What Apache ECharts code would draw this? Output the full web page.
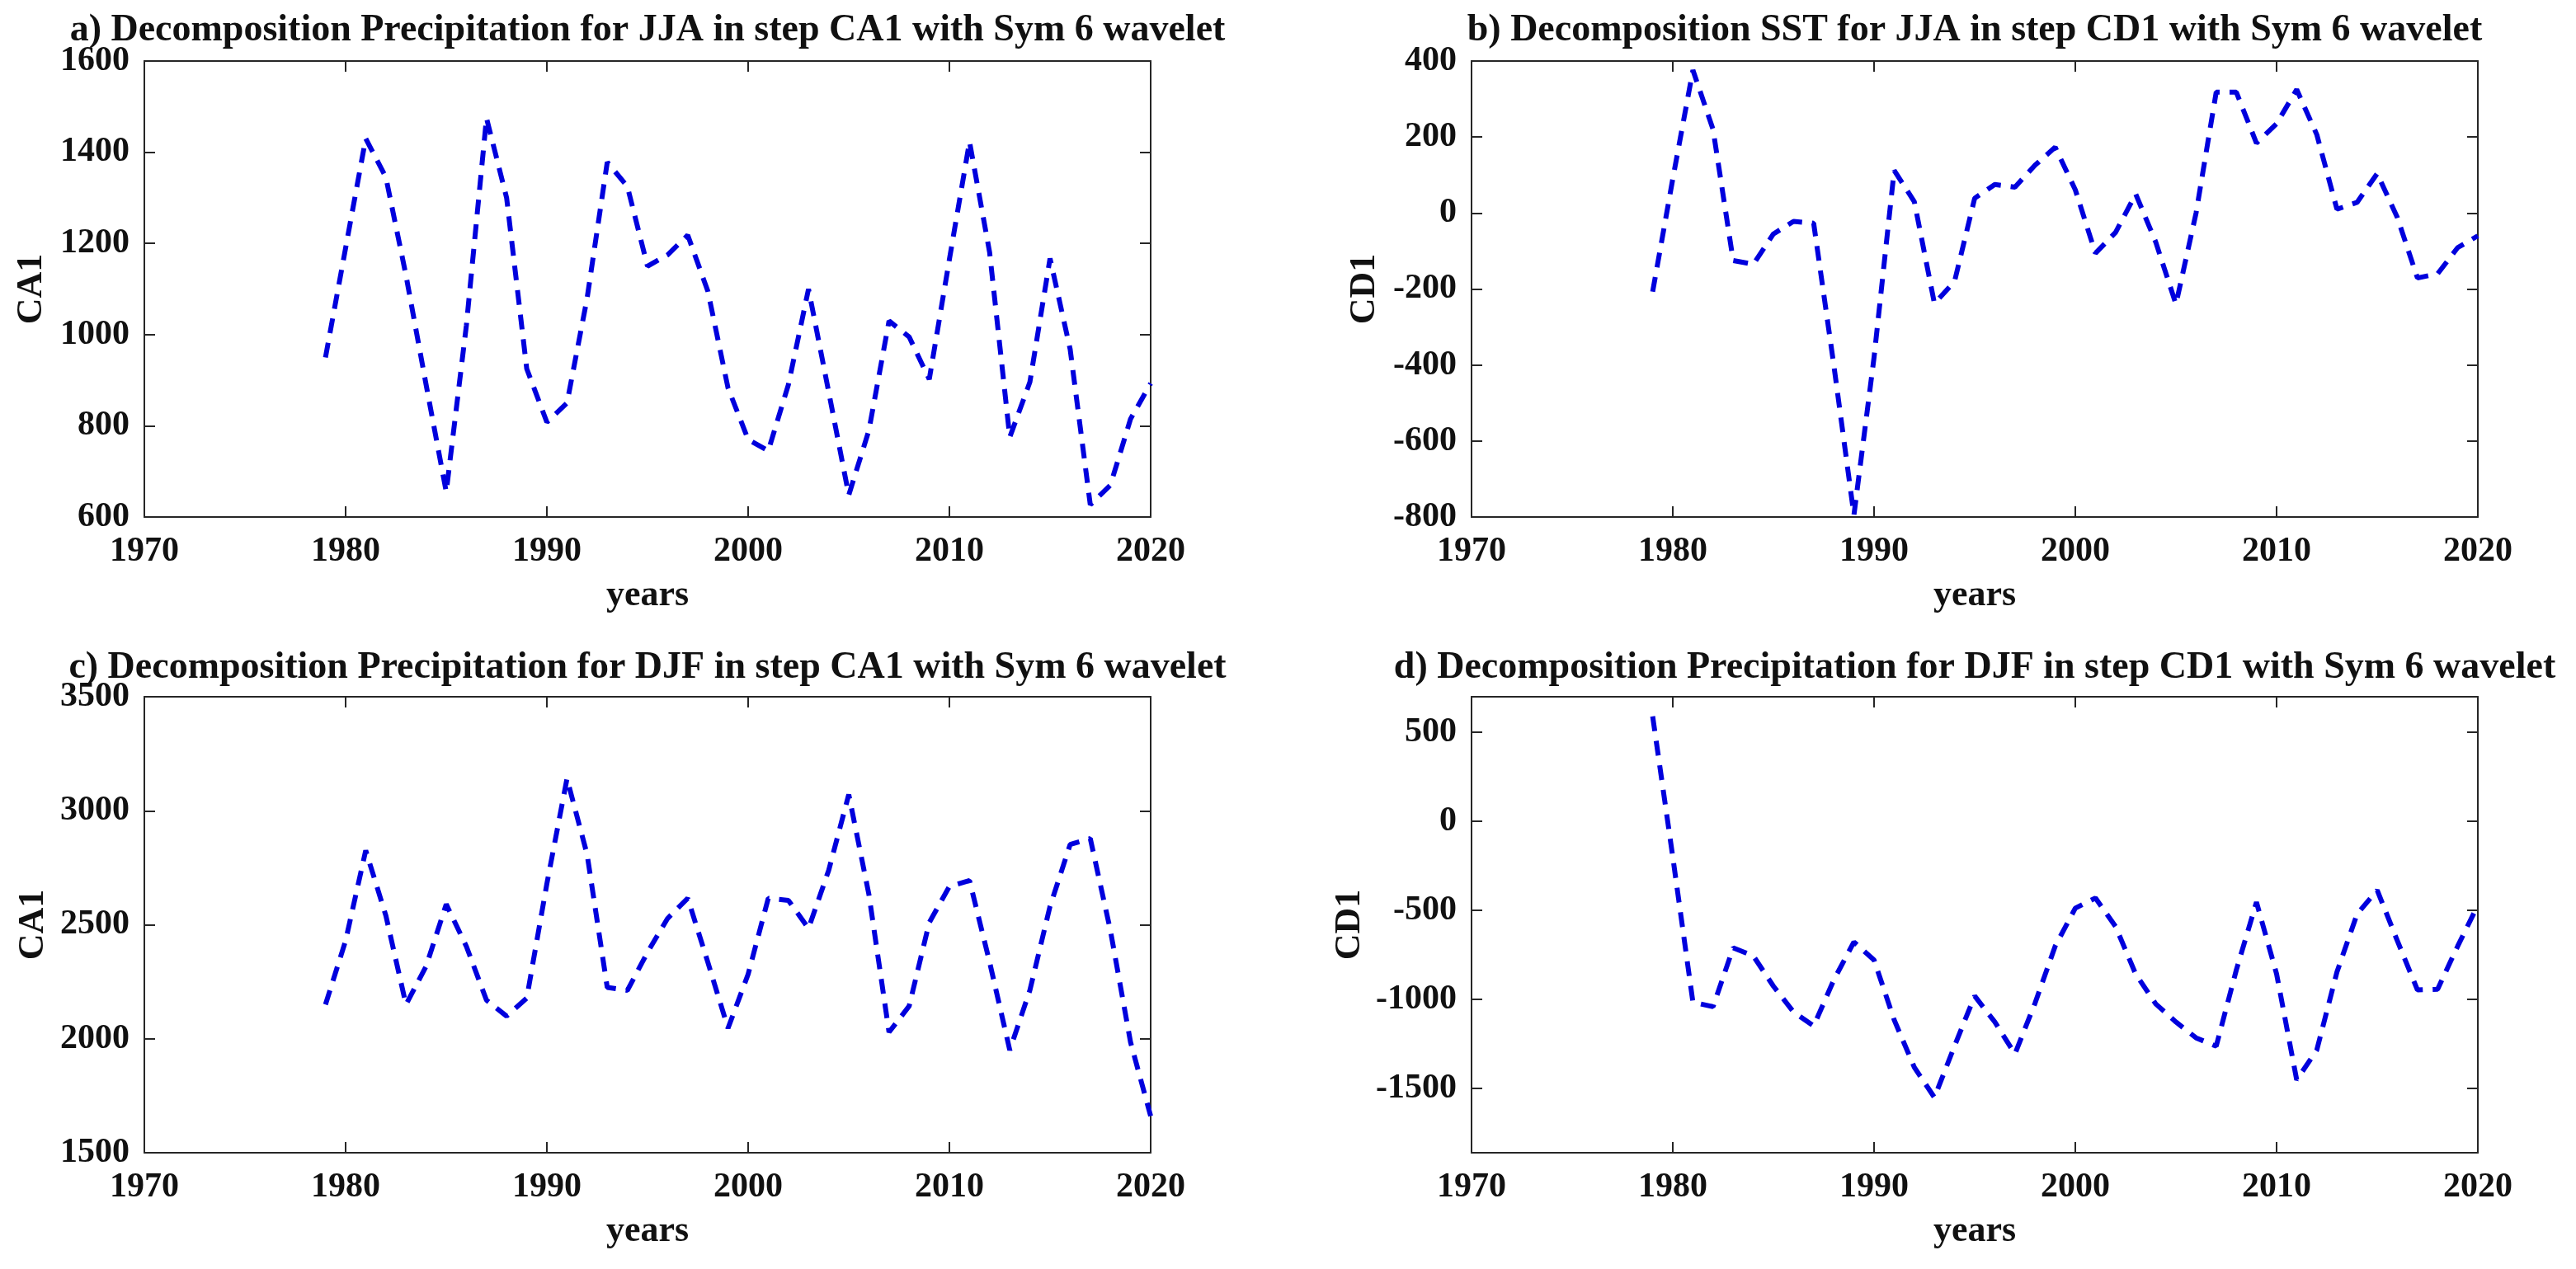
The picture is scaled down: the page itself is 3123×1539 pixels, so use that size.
<!DOCTYPE html>
<html><head><meta charset="utf-8">
<script src="https://cdn.jsdelivr.net/npm/echarts@6/dist/echarts.min.js"></script>
<style>html,body{margin:0;padding:0;background:#fff;}#c{width:3123px;height:1539px;}</style>
</head><body><div id="c"></div>
<script>
const years = [1979,1980,1981,1982,1983,1984,1985,1986,1987,1988,1989,1990,1991,1992,1993,1994,1995,1996,1997,1998,1999,2000,2001,2002,2003,2004,2005,2006,2007,2008,2009,2010,2011,2012,2013,2014,2015,2016,2017,2018,2019,2020];
const jjaPrecipCA1 = [950,1190,1430,1345,1130,890,655,1020,1475,1300,925,808,850,1080,1378,1325,1150,1175,1218,1095,883,770,745,890,1100,875,648,790,1030,995,902,1165,1423,1180,775,896,1167,968,627,670,815,893];
const jjaSstCD1 = [-207,90,376,220,-125,-135,-55,-22,-27,-400,-795,-380,112,30,-238,-180,39,75,68,126,173,61,-106,-51,50,-77,-240,0,318,318,184,235,325,206,10,28,104,-12,-171,-160,-91,-60];
const djfPrecipCA1 = [2150,2430,2826,2540,2150,2318,2590,2405,2169,2099,2178,2680,3141,2808,2225,2212,2379,2528,2616,2335,2046,2283,2616,2607,2484,2738,3071,2633,2029,2143,2510,2668,2694,2335,1950,2213,2581,2852,2878,2475,1985,1661];
const djfPrecipCD1 = [590,-200,-1015,-1040,-710,-755,-925,-1070,-1148,-890,-677,-778,-1114,-1380,-1550,-1260,-980,-1126,-1305,-1020,-700,-487,-430,-590,-857,-1025,-1126,-1215,-1262,-834,-453,-856,-1451,-1283,-845,-520,-386,-670,-946,-942,-700,-470];

const titles = [
  'a) Decomposition Precipitation for JJA in step CA1 with Sym 6 wavelet',
  'b) Decomposition SST for JJA in step CD1 with Sym 6 wavelet',
  'c) Decomposition Precipitation for DJF in step CA1 with Sym 6 wavelet',
  'd) Decomposition Precipitation for DJF in step CD1 with Sym 6 wavelet'
];
const yNames = ['CA1','CD1','CA1','CD1'];
const xName = 'years';
const xMin = 1970, xMax = 2020, xStep = 10;
const yMins = [600, -800, 1500, -1860];
const yMaxs = [1600, 400, 3500, 700];
const ySteps = [200, 200, 500, null];
const seriesData = [jjaPrecipCA1, jjaSstCD1, djfPrecipCA1, djfPrecipCD1];

const FONT = '"Liberation Serif", "Times New Roman", serif';
const AX = '#262626';
const grids = [
  {left:175, top:74, width:1220, height:553},
  {left:1784, top:74, width:1220, height:553},
  {left:175, top:845, width:1220, height:553},
  {left:1784, top:845, width:1220, height:553}
];
const titleTops = [14, 14, 787, 787];
const yNameGaps = [114, 107, 112, 125];

const option = {
  animation:false,
  backgroundColor:'#ffffff',
  title: [], grid: [], xAxis: [], yAxis: [], series: []
};
const lineCommon = {show:true, onZero:false, lineStyle:{color:AX, width:2}};
const tickCommon = {show:true, inside:true, length:13, lineStyle:{color:AX, width:2}};
const plain = v => String(v);
grids.forEach((g, i) => {
  option.grid.push(Object.assign({containLabel:false}, g));
  option.title.push({
    text: titles[i], left: g.left + g.width/2, top: titleTops[i], textAlign:'center', padding:0,
    textStyle:{fontFamily:FONT, fontWeight:'bold', fontSize:46, color:'#111'}
  });
  option.xAxis.push({
    type:'value', gridIndex:i, position:'bottom', min:xMin, max:xMax, interval:xStep,
    name:xName, nameLocation:'middle', nameGap:74,
    nameTextStyle:{fontFamily:FONT, fontWeight:'bold', fontSize:44, color:'#111'},
    axisLine:lineCommon, axisTick:tickCommon, splitLine:{show:false},
    axisLabel:{fontFamily:FONT, fontWeight:'bold', fontSize:42, color:'#111', margin:21, formatter:plain}
  });
  option.xAxis.push({
    type:'value', gridIndex:i, position:'top', min:xMin, max:xMax, interval:xStep,
    axisLine:lineCommon, axisTick:tickCommon, splitLine:{show:false}, axisLabel:{show:false}
  });
  const yBase = {type:'value', gridIndex:i, min:yMins[i], max:yMaxs[i]};
  if (ySteps[i]) yBase.interval = ySteps[i];
  option.yAxis.push(Object.assign({}, yBase, {
    position:'left', name:yNames[i], nameLocation:'middle', nameGap:yNameGaps[i], nameRotate:90,
    nameTextStyle:{fontFamily:FONT, fontWeight:'bold', fontSize:44, color:'#111'},
    axisLine:lineCommon, axisTick:tickCommon, splitLine:{show:false},
    axisLabel:{fontFamily:FONT, fontWeight:'bold', fontSize:42, color:'#111', margin:18, formatter:plain,
      showMinLabel: ySteps[i] ? true : false, showMaxLabel: ySteps[i] ? true : false}
  }));
  option.yAxis.push(Object.assign({}, yBase, {
    position:'right', axisLine:lineCommon, axisTick:tickCommon, splitLine:{show:false}, axisLabel:{show:false}
  }));
  option.series.push({
    type:'line', xAxisIndex:i*2, yAxisIndex:i*2, symbol:'none', silent:true,
    data: years.map((y, k) => [y, seriesData[i][k]]),
    lineStyle:{color:'#0000dd', width:6, type:[18,12]}
  });
});
const chart = echarts.init(document.getElementById('c'));
chart.setOption(option);
</script>
</body></html>
